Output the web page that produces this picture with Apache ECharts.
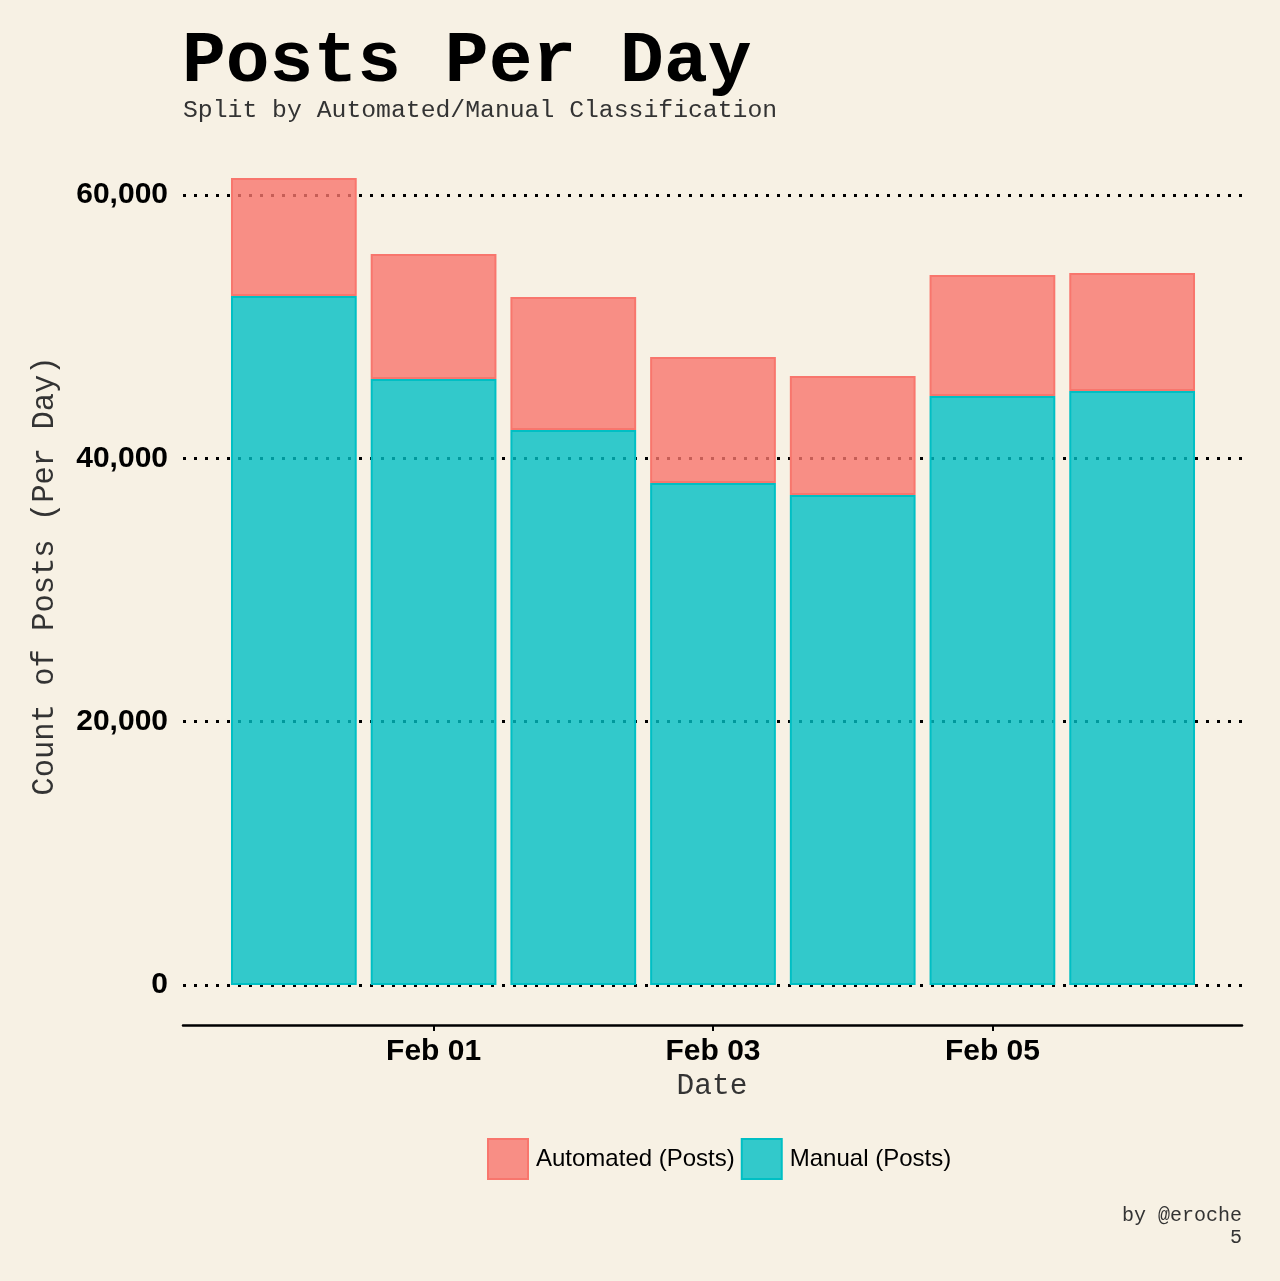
<!DOCTYPE html>
<html>
<head>
<meta charset="utf-8">
<script src="https://cdn.jsdelivr.net/npm/echarts@6/dist/echarts.min.js"></script>
<style>
html,body{margin:0;padding:0;background:#F7F1E4;}
#chart{width:1280px;height:1281px;}
</style>
</head>
<body>
<div id="chart"></div>
<script>
const categories = ['Jan 31', 'Feb 01', 'Feb 02', 'Feb 03', 'Feb 04', 'Feb 05', 'Feb 06'];
const manualPosts = [52330, 46030, 42150, 38130, 37220, 44730, 45110];
const automatedPosts = [8960, 9490, 10100, 9570, 9040, 9190, 8970];
const yTicks = [0, 20000, 40000, 60000];
const labelIdx = [1, 3, 5];

const chart = echarts.init(document.getElementById('chart'));
const fmt = v => v.toLocaleString('en-US');
const mono = '"Liberation Mono", "DejaVu Sans Mono", monospace';
const sans = '"Liberation Sans", Arial, sans-serif';

const option = {
  backgroundColor: '#F7F1E4',
  animation: false,
  grid: [
    {left: 224, right: 78, top: 195, bottom: 296, containLabel: false},
    {left: 183, right: 38, top: 195, bottom: 296, containLabel: false}
  ],
  xAxis: [
    {
      type: 'category', gridIndex: 0, data: categories, offset: 40,
      axisLine: {show: false, onZero: false},
      axisTick: {show: true, alignWithLabel: true, length: 6, interval: i => labelIdx.includes(i),
        lineStyle: {color: '#000', width: 2}},
      axisLabel: {interval: i => labelIdx.includes(i), color: '#000', fontFamily: sans,
        fontWeight: 'bold', fontSize: 30, margin: 12}
    },
    {
      type: 'value', gridIndex: 1, min: 0, max: 1, offset: 40,
      axisLine: {show: true, onZero: false, lineStyle: {color: '#000', width: 2.5}},
      axisTick: {show: false}, axisLabel: {show: false}, splitLine: {show: false}
    }
  ],
  yAxis: [
    {type: 'value', gridIndex: 0, min: 0, max: 60000, interval: 20000, show: false,
      splitLine: {show: false}},
    {type: 'value', gridIndex: 1, min: 0, max: 60000, interval: 20000,
      axisLine: {show: false}, axisTick: {show: false},
      axisLabel: {color: '#000', fontFamily: sans, fontWeight: 'bold', fontSize: 30,
        margin: 15, formatter: v => yTicks.includes(v) ? fmt(v) : ''},
      splitLine: {show: true, lineStyle: {color: '#000', width: 3, type: [3, 8]}}
    }
  ],
  legend: {
    data: ['Automated (Posts)', 'Manual (Posts)'],
    left: 482, top: 1133, itemWidth: 40, itemHeight: 40, itemGap: 6,
    textStyle: {color: '#000', fontFamily: sans, fontSize: 24, padding: [0, 0, 0, 3]},
    icon: 'rect'
  },
  series: [
    {
      name: 'Manual (Posts)', type: 'bar', stack: 'total', xAxisIndex: 0, yAxisIndex: 0,
      data: manualPosts, barWidth: '90%', clip: false,
      itemStyle: {color: 'rgba(0,191,196,0.8)', borderColor: '#00BFC4', borderWidth: 2}
    },
    {
      name: 'Automated (Posts)', type: 'bar', stack: 'total', xAxisIndex: 0, yAxisIndex: 0,
      data: automatedPosts, barWidth: '90%', clip: false,
      itemStyle: {color: 'rgba(248,118,109,0.8)', borderColor: '#F8766D', borderWidth: 2}
    }
  ],
  graphic: [
    {type: 'text', left: 182, top: 26, style: {text: 'Posts Per Day', fontFamily: mono,
      fontWeight: 'bold', fontSize: 73, fill: '#000'}},
    {type: 'text', left: 183, top: 98, style: {text: 'Split by Automated/Manual Classification',
      fontFamily: mono, fontSize: 24.75, fill: '#333'}},
    {type: 'text', x: 712, y: 1086, style: {text: 'Date', fontFamily: mono, fontSize: 29.5,
      fill: '#333', align: 'center', verticalAlign: 'middle'}},
    {type: 'text', x: 45, y: 576, rotation: Math.PI / 2, style: {text: 'Count of Posts (Per Day)',
      fontFamily: mono, fontSize: 30.5, fill: '#333', align: 'center', verticalAlign: 'middle'}},
    {type: 'text', x: 1242, y: 1216, style: {text: 'by @eroche', fontFamily: mono, fontSize: 20,
      fill: '#333', align: 'right', verticalAlign: 'middle'}},
    {type: 'text', x: 1242, y: 1238, style: {text: '5', fontFamily: mono, fontSize: 20,
      fill: '#333', align: 'right', verticalAlign: 'middle'}}
  ]
};
chart.setOption(option);
</script>
</body>
</html>
